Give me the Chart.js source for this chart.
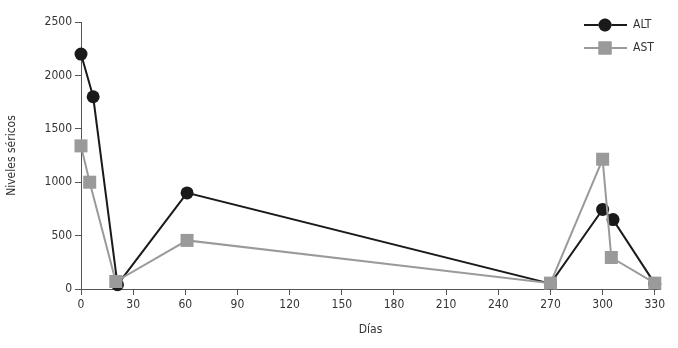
<!DOCTYPE html>
<html>
<head>
<meta charset="utf-8">
<script src="https://cdn.jsdelivr.net/npm/chart.js@4"></script>
<style>
  html, body { margin: 0; padding: 0; background: #fff; }
  #wrap { width: 678px; height: 348px; }
</style>
</head>
<body>
<div id="wrap"><canvas id="chart"></canvas></div>
<script>
const altDays = [0, 7, 21, 61, 270, 300, 306, 330];
const altVals = [2200, 1800, 40, 900, 50, 745, 650, 50];
const astDays = [0, 5, 20, 61, 270, 300, 305, 330];
const astVals = [1340, 1000, 70, 455, 55, 1215, 295, 55];
const xTicks = [0, 30, 60, 90, 120, 150, 180, 210, 240, 270, 300, 330];
const yTicks = [0, 500, 1000, 1500, 2000, 2500];

const FONT = '"Liberation Sans Narrow", "DejaVu Sans Condensed", "Liberation Sans", sans-serif';
Chart.defaults.font.family = FONT;
Chart.defaults.font.size = 12;
Chart.defaults.color = '#333';

const toPoints = (xs, ys) => xs.map((x, i) => ({ x: x, y: ys[i] }));

// legend drawn as line + marker, like the original
const lineLegend = {
    id: 'lineLegend',
    afterDraw(chart) {
        const ctx = chart.ctx;
        chart.data.datasets.forEach((ds, i) => {
            const y = 25 + i * 23;
            ctx.save();
            ctx.strokeStyle = ds.borderColor;
            ctx.lineWidth = 2;
            ctx.beginPath();
            ctx.moveTo(584, y);
            ctx.lineTo(627, y);
            ctx.stroke();
            Chart.helpers.drawPoint(ctx, {
                pointStyle: ds.pointStyle,
                radius: ds.pointRadius,
                borderWidth: 0
            }, 605, y);
            ctx.fillStyle = ds.pointBackgroundColor;
            ctx.fill();
            ctx.fillStyle = '#333';
            ctx.font = '12px ' + FONT;
            ctx.textBaseline = 'middle';
            ctx.fillText(ds.label, 633, y);
            ctx.restore();
        });
    }
};

new Chart(document.getElementById('chart'), {
    type: 'line',
    data: {
        datasets: [{
            label: 'ALT',
            data: toPoints(altDays, altVals),
            borderColor: '#1a1a1a',
            backgroundColor: '#1a1a1a',
            pointBackgroundColor: '#1a1a1a',
            pointBorderWidth: 0,
            pointStyle: 'circle',
            pointRadius: 6.5,
            borderWidth: 2,
            tension: 0,
            clip: false,
            order: 1
        }, {
            label: 'AST',
            data: toPoints(astDays, astVals),
            borderColor: '#9a9a9a',
            backgroundColor: '#9a9a9a',
            pointBackgroundColor: '#9a9a9a',
            pointBorderWidth: 0,
            pointStyle: 'rect',
            pointRadius: 9.2,
            borderWidth: 2,
            tension: 0,
            clip: false,
            order: 0
        }]
    },
    options: {
        responsive: true,
        maintainAspectRatio: false,
        animation: false,
        layout: { padding: { top: 22, right: 18, bottom: 0, left: 0 } },
        plugins: {
            legend: { display: false },
            tooltip: { enabled: false }
        },
        scales: {
            x: {
                type: 'linear',
                min: 0,
                max: 333,
                afterBuildTicks: (axis) => { axis.ticks = xTicks.map(v => ({ value: v })); },
                afterFit: (axis) => { axis.height = 59; },
                grid: { drawOnChartArea: false, drawTicks: true, tickLength: 6, color: '#555' },
                border: { color: '#555', width: 1 },
                ticks: { padding: 3, maxRotation: 0, autoSkip: false, callback: (v) => String(v) },
                title: { display: true, text: 'Días', padding: { top: 4, bottom: 11 } }
            },
            y: {
                min: 0,
                max: 2500,
                afterBuildTicks: (axis) => { axis.ticks = yTicks.map(v => ({ value: v })); },
                afterFit: (axis) => { axis.width = 81; },
                grid: { drawOnChartArea: false, drawTicks: true, tickLength: 6, color: '#555' },
                border: { color: '#555', width: 1 },
                ticks: { padding: 3, callback: (v) => String(v) },
                title: { display: true, text: 'Niveles séricos', padding: { top: 5, bottom: 4 } }
            }
        }
    },
    plugins: [lineLegend]
});
</script>
</body>
</html>
